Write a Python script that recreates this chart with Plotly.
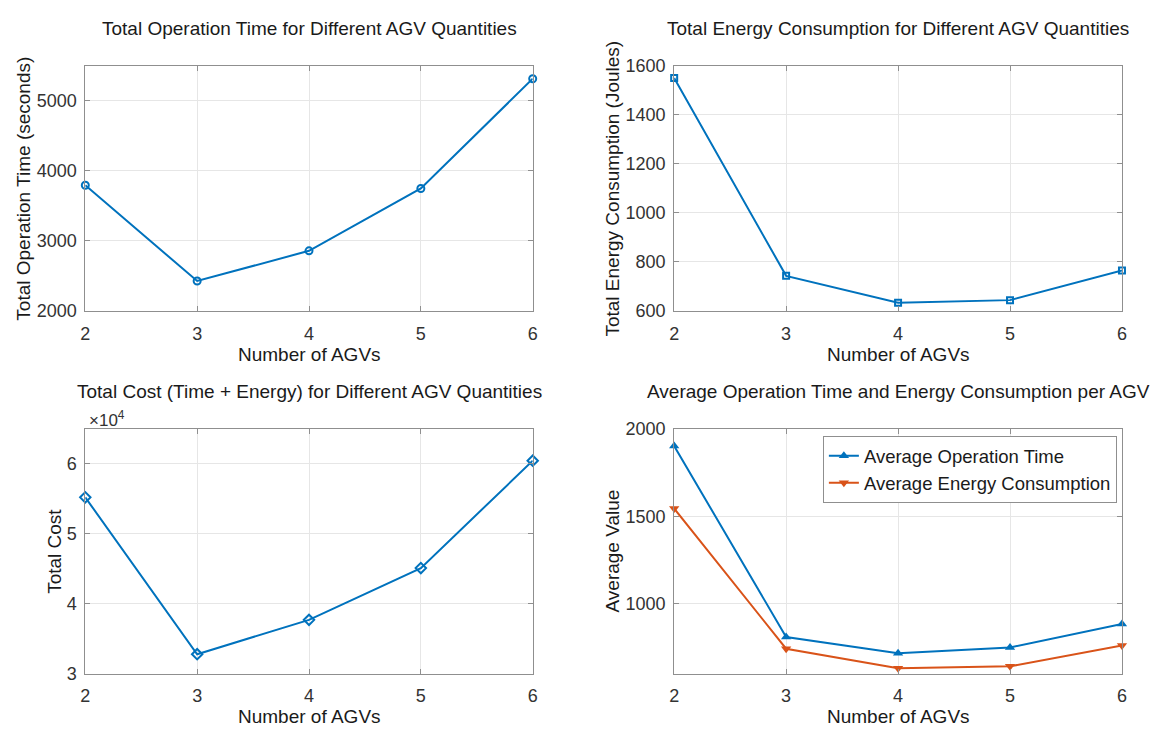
import plotly.graph_objects as go
from plotly.subplots import make_subplots

# ---- data ----
agv_counts = [2, 3, 4, 5, 6]
total_time = [3794, 2427, 2858, 3748, 5315]
total_energy = [1550, 743, 633, 644, 765]
total_cost = [55220, 32760, 37680, 45090, 60460]
avg_time = [1903, 809, 716, 749, 883]
avg_energy = [1545, 742, 630, 641, 760]

titles = [
    "Total Operation Time for Different AGV Quantities",
    "Total Energy Consumption for Different AGV Quantities",
    "Total Cost (Time + Energy) for Different AGV Quantities",
    "Average Operation Time and Energy Consumption per AGV",
]
y_titles = [
    "Total Operation Time (seconds)",
    "Total Energy Consumption (Joules)",
    "Total Cost",
    "Average Value",
]
x_title = "Number of AGVs"
cost_tickvals = [30000, 40000, 50000, 60000]
cost_ticktext = ["3", "4", "5", "6"]

BLUE = "#0072BD"
ORANGE = "#D95319"
FONT = "Liberation Sans, Arial, sans-serif"
W, H = 1158, 738

fig = make_subplots(rows=2, cols=2)

line_w = 2
fig.add_trace(go.Scatter(x=agv_counts, y=total_time, mode="lines+markers",
                         line=dict(color=BLUE, width=line_w),
                         marker=dict(symbol="circle-open", size=7, color=BLUE, line=dict(width=2)),
                         cliponaxis=False, showlegend=False), row=1, col=1)
fig.add_trace(go.Scatter(x=agv_counts, y=total_energy, mode="lines+markers",
                         line=dict(color=BLUE, width=line_w),
                         marker=dict(symbol="square-open", size=6, color=BLUE, line=dict(width=2)),
                         cliponaxis=False, showlegend=False), row=1, col=2)
fig.add_trace(go.Scatter(x=agv_counts, y=total_cost, mode="lines+markers",
                         line=dict(color=BLUE, width=line_w),
                         marker=dict(symbol="diamond-open", size=8, color=BLUE, line=dict(width=2)),
                         cliponaxis=False, showlegend=False), row=2, col=1)
fig.add_trace(go.Scatter(x=agv_counts, y=avg_time, mode="lines+markers",
                         name="Average Operation Time",
                         line=dict(color=BLUE, width=line_w),
                         marker=dict(symbol="triangle-up", size=9, color=BLUE),
                         cliponaxis=False), row=2, col=2)
fig.add_trace(go.Scatter(x=agv_counts, y=avg_energy, mode="lines+markers",
                         name="Average Energy Consumption",
                         line=dict(color=ORANGE, width=line_w),
                         marker=dict(symbol="triangle-down", size=9, color=ORANGE),
                         cliponaxis=False), row=2, col=2)

# plot-area geometry in pixels (left, right, top, bottom)
boxes = [
    (81, 532.3, 57.3, 309.3),
    (675, 1126.7, 57.3, 309.3),
    (81, 532.3, 430.7, 682.0),
    (675, 1126.7, 430.7, 682.0),
]
axis_common = dict(
    showline=True, linecolor="#8f8f8f", linewidth=1, mirror="ticks",
    ticks="inside", ticklen=5, tickcolor="#8f8f8f",
    showgrid=True, gridcolor="#e6e6e6", gridwidth=1, zeroline=False,
    tickfont=dict(family=FONT, size=18, color="#333333"),
)
yranges = [[2000, 5500], [600, 1600], [30000, 65000], [600, 2000]]
ytickvals = [[2000, 3000, 4000, 5000], [600, 800, 1000, 1200, 1400, 1600],
             cost_tickvals, [1000, 1500, 2000]]

for i, (l, r, t, b) in enumerate(boxes):
    sfx = "" if i == 0 else str(i + 1)
    fig.layout["xaxis" + sfx].update(
        domain=[l / W, r / W], range=[2, 6], tickvals=agv_counts,
        ticklabelstandoff=6, **axis_common)
    yk = dict(domain=[1 - b / H, 1 - t / H], range=yranges[i],
              tickvals=ytickvals[i], ticklabelstandoff=4, **axis_common)
    if i == 2:
        yk["ticktext"] = cost_ticktext
    fig.layout["yaxis" + sfx].update(**yk)

annotations = []
for i, (l, r, t, b) in enumerate(boxes):
    cx = (l + r) / 2
    # title
    annotations.append(dict(text=titles[i], x=cx / W, y=1 - (t - 38.5) / H,
                            xref="paper", yref="paper", xanchor="center", yanchor="middle",
                            showarrow=False, font=dict(family=FONT, size=19, color="#1a1a1a")))
    # x label
    annotations.append(dict(text=x_title, x=cx / W, y=1 - (b + 44.5) / H,
                            xref="paper", yref="paper", xanchor="center", yanchor="middle",
                            showarrow=False, font=dict(family=FONT, size=19, color="#1a1a1a")))
    # y label
    off = 31 if i == 2 else 62.5
    annotations.append(dict(text=y_titles[i], x=(l - off) / W, y=1 - ((t + b) / 2) / H,
                            xref="paper", yref="paper", xanchor="center", yanchor="middle",
                            textangle=-90, showarrow=False,
                            font=dict(family=FONT, size=19, color="#1a1a1a")))

# exponent label for the cost axis
annotations.append(dict(text="×10<sup>4</sup>", x=83 / W, y=1 - 420 / H,
                        xref="paper", yref="paper", xanchor="left", yanchor="middle",
                        showarrow=False, font=dict(family=FONT, size=17, color="#333333")))

fig.update_layout(
    width=W, height=H, autosize=False,
    margin=dict(l=0, r=0, t=0, b=0),
    paper_bgcolor="white", plot_bgcolor="white",
    annotations=annotations,
    legend=dict(x=825 / W, y=1 - 438 / H, xanchor="left", yanchor="top",
                bgcolor="white", bordercolor="#8f8f8f", borderwidth=1,
                font=dict(family=FONT, size=18.5, color="#1a1a1a"),
                tracegroupgap=0),
    font=dict(family=FONT),
)

fig.write_html("out.html", config={"displayModeBar": False},
               post_script="document.body.style.margin='0';")
